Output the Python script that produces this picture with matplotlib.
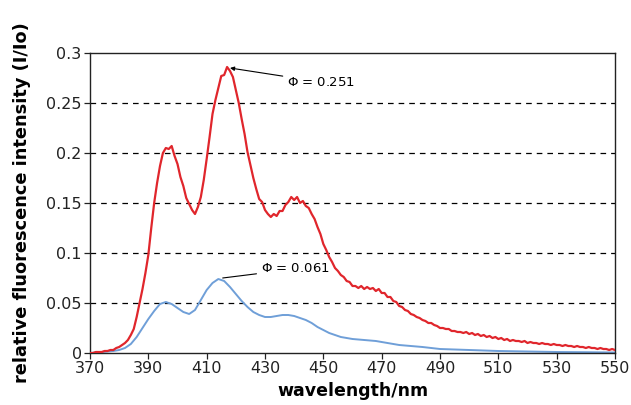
import numpy as np
import matplotlib
matplotlib.use("Agg")
import matplotlib.pyplot as plt

plt.rcParams['font.family'] = ['DejaVu Sans']
plt.rcParams['mathtext.fontset'] = 'dejavusans'

# Red spectrum (Phi = 0.251), 1 nm steps 370..550
red_wl = list(range(370, 551))
red_val = [
    0.000, 0.000, 0.001, 0.001, 0.001, 0.002, 0.002, 0.003, 0.003, 0.005,
    0.006, 0.008, 0.010, 0.013, 0.018, 0.024, 0.036, 0.050, 0.064, 0.080,
    0.098, 0.125, 0.150, 0.170, 0.187, 0.200, 0.205, 0.204, 0.207, 0.197,
    0.189, 0.176, 0.167, 0.155, 0.149, 0.143, 0.139, 0.146, 0.156, 0.173,
    0.194, 0.216, 0.239, 0.253, 0.265, 0.277, 0.278, 0.286, 0.282, 0.276,
    0.263, 0.250, 0.234, 0.219, 0.201, 0.188, 0.175, 0.164, 0.154, 0.151,
    0.143, 0.139, 0.136, 0.139, 0.137, 0.142, 0.142, 0.148, 0.151, 0.156,
    0.153, 0.156, 0.150, 0.152, 0.147, 0.145, 0.139, 0.134, 0.126, 0.119,
    0.109, 0.103, 0.096, 0.091, 0.085, 0.082, 0.078, 0.076, 0.072, 0.071,
    0.067, 0.067, 0.065, 0.067, 0.064, 0.066, 0.064, 0.065, 0.062, 0.064,
    0.060, 0.060, 0.056, 0.056, 0.052, 0.051, 0.047, 0.046, 0.043, 0.042,
    0.039, 0.038, 0.036, 0.035, 0.033, 0.032, 0.030, 0.030, 0.028, 0.027,
    0.025, 0.025, 0.024, 0.024, 0.022, 0.022, 0.021, 0.021, 0.020, 0.021,
    0.019, 0.020, 0.018, 0.019, 0.017, 0.018, 0.016, 0.017, 0.015, 0.016,
    0.014, 0.015, 0.013, 0.014, 0.012, 0.013, 0.012, 0.012, 0.011, 0.012,
    0.010, 0.011, 0.010, 0.010, 0.009, 0.010, 0.009, 0.009, 0.008, 0.009,
    0.008, 0.008, 0.007, 0.008, 0.007, 0.007, 0.006, 0.007, 0.006, 0.006,
    0.005, 0.006, 0.005, 0.005, 0.004, 0.005, 0.004, 0.004, 0.003, 0.004, 0.003,
]

# Blue spectrum (Phi = 0.061)
blue_wl = [370, 372, 374, 376, 378, 380, 382, 384, 386, 388, 390, 392, 394, 396,
           398, 400, 402, 404, 406, 408, 410, 412, 414, 416, 418, 420, 422, 424,
           426, 428, 430, 432, 434, 436, 438, 440, 442, 444, 446, 448, 450, 452,
           454, 456, 458, 460, 464, 468, 472, 476, 480, 484, 490, 500, 510, 520,
           530, 540, 550]
blue_val = [0.000, 0.0005, 0.001, 0.0015, 0.002, 0.003, 0.005, 0.009, 0.016, 0.025,
            0.034, 0.042, 0.049, 0.051, 0.049, 0.045, 0.041, 0.039, 0.043, 0.053,
            0.063, 0.070, 0.074, 0.072, 0.066, 0.059, 0.052, 0.046, 0.041, 0.038,
            0.036, 0.036, 0.037, 0.038, 0.038, 0.037, 0.035, 0.033, 0.030, 0.026,
            0.023, 0.020, 0.018, 0.016, 0.015, 0.014, 0.013, 0.012, 0.010, 0.008,
            0.007, 0.006, 0.004, 0.003, 0.002, 0.0015, 0.001, 0.0008, 0.0005]

x_ticks = [370, 390, 410, 430, 450, 470, 490, 510, 530, 550]
y_ticks = [0, 0.05, 0.1, 0.15, 0.2, 0.25, 0.3]
y_tick_labels = ['0', '0.05', '0.1', '0.15', '0.2', '0.25', '0.3']

fig = plt.figure(figsize=(6.31, 4.05), dpi=100)
ax = fig.add_axes([90/631, 1-353/405, 525/631, 300/405])

for y in y_ticks[1:-1]:
    ax.axhline(y, color='black', lw=0.9, ls=(0, (4.5, 4)), zorder=1)

ax.plot(blue_wl, blue_val, color='#6f9fd8', lw=1.4, zorder=2)
ax.plot(red_wl, red_val, color='#e0262c', lw=1.6, zorder=3)

ax.set_xlim(370, 550)
ax.set_ylim(0, 0.3)
ax.set_xticks(x_ticks)
ax.set_yticks(y_ticks)
ax.set_yticklabels(y_tick_labels)
ax.tick_params(axis='both', direction='out', length=4, width=0.9, labelsize=11.5,
               colors='#222222', pad=2)
for s in ax.spines.values():
    s.set_linewidth(1.0)
    s.set_color('#222222')

ax.set_xlabel('wavelength/nm', fontsize=12.5, fontweight='bold', labelpad=4)
ax.set_ylabel('relative fluorescence intensity (I/Io)', fontsize=12.8,
              fontweight='bold', labelpad=11)

ax.annotate(r'$\mathit{\Phi}$ = 0.251', xy=(418, 0.285), xytext=(437.5, 0.271),
            fontsize=9.5, va='center', ha='left',
            arrowprops=dict(arrowstyle='-|>', color='black', lw=0.8,
                            mutation_scale=6, shrinkA=1, shrinkB=0))
ax.annotate(r'$\mathit{\Phi}$ = 0.061', xy=(415.5, 0.075), xytext=(428.5, 0.084),
            fontsize=9.5, va='center', ha='left',
            arrowprops=dict(arrowstyle='-', color='black', lw=0.8,
                            shrinkA=1, shrinkB=0))

fig.savefig('out.png', dpi=100)
